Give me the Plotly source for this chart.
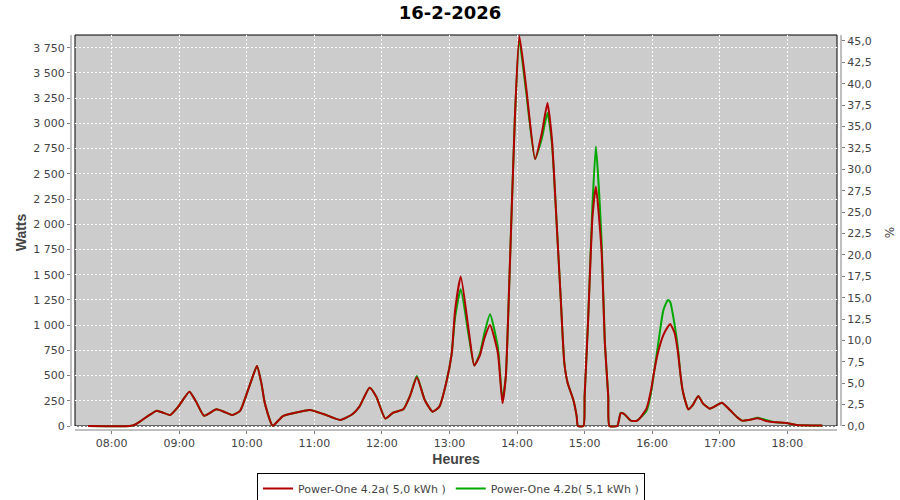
import plotly.graph_objects as go

DAY = "2026-02-16"

times = ["07:39", "08:16", "08:21", "08:25", "08:31", "08:40", "08:46", "08:52", "08:59", "09:09",
         "09:15", "09:22", "09:33", "09:41", "09:47", "09:54", "09:58", "10:04", "10:09", "10:13",
         "10:16", "10:23", "10:32", "10:41", "10:56", "11:08", "11:23", "11:34", "11:40", "11:49",
         "11:55", "12:03", "12:10", "12:19", "12:25", "12:31", "12:38", "12:45", "12:51", "12:57",
         "13:02", "13:05", "13:10", "13:17", "13:22", "13:27", "13:31", "13:36", "13:43", "13:47",
         "13:50", "13:53", "13:58", "14:02", "14:08", "14:16", "14:22", "14:27", "14:31", "14:35",
         "14:39", "14:42", "14:45", "14:50", "14:53", "14:54", "14:59", "15:00", "15:03", "15:07",
         "15:10", "15:15", "15:18", "15:21", "15:22", "15:29", "15:32", "15:35", "15:41", "15:46",
         "15:49", "15:55", "15:59", "16:02", "16:05", "16:10", "16:14", "16:16", "16:20", "16:23",
         "16:25", "16:27", "16:30", "16:32", "16:36", "16:41", "16:45", "16:51", "16:55", "17:02",
         "17:09", "17:15", "17:20", "17:26", "17:34", "17:41", "17:50", "17:59", "18:08", "18:31"]

power_a = [0, 0, 15, 43, 90, 152, 130, 109, 190, 340,
           240, 102, 165, 135, 109, 150, 258, 450, 595, 420,
           225, 3, 99, 126, 159, 119, 60, 119, 192, 380,
           291, 73, 132, 165, 300, 483, 258, 142, 192, 423,
           721, 1150, 1481, 952, 600, 700, 870, 1002, 721, 225,
           489, 1382, 3036, 3869, 3366, 2646, 2904, 3201, 2837, 2044,
           1217, 622, 423, 258, 92, 0, 0, 291, 1019, 2076,
           2374, 1746, 820, 291, 0, 0, 126, 120, 53, 50,
           76, 175, 357, 555, 721, 903, 985, 1012, 920, 721,
           523, 357, 225, 165, 208, 298, 225, 172, 190, 231,
           159, 92, 53, 60, 76, 50, 36, 30, 10, 5]

power_b = [0, 0, 15, 43, 90, 152, 130, 109, 190, 340,
           240, 102, 165, 135, 109, 150, 258, 450, 595, 420,
           225, 3, 99, 126, 159, 119, 60, 119, 192, 380,
           291, 73, 132, 165, 300, 495, 258, 142, 192, 423,
           721, 1080, 1356, 900, 600, 720, 920, 1108, 780, 260,
           489, 1382, 3036, 3820, 3320, 2646, 2850, 3102, 2800, 2044,
           1217, 622, 423, 258, 92, 0, 0, 291, 1019, 2200,
           2771, 1850, 820, 291, 0, 0, 131, 120, 53, 50,
           76, 150, 330, 560, 787, 1151, 1250, 1230, 1000, 760,
           523, 357, 225, 165, 208, 298, 225, 172, 190, 231,
           159, 92, 53, 60, 82, 60, 36, 30, 10, 5]

name_a = "Power-One 4.2a( 5,0 kWh )"
name_b = "Power-One 4.2b( 5,1 kWh )"
title_text = "16-2-2026"

xs = [f"{DAY} {t}" for t in times]

W, H = 900, 500
L, R, T, B = 71, 59, 35, 70
PW, PH = W - L - R, H - T - B


def fx(px):
    return (px - L) / PW


def fy(py):
    return (H - B - py) / PH


FONT = "DejaVu Sans"
GRAY = "#808080"
TXT = "#444444"
SMOOTH = 0.5

fig = go.Figure()
fig.add_trace(go.Scatter(x=xs, y=power_b, name=name_b, mode="lines", legendrank=2,
                         line=dict(color="#00A800", width=2, shape="spline", smoothing=SMOOTH)))
fig.add_trace(go.Scatter(x=xs, y=power_a, name=name_a, mode="lines", legendrank=1,
                         line=dict(color="#B00000", width=2, shape="spline", smoothing=SMOOTH)))
fig.add_trace(go.Scatter(x=[xs[0]], y=[None], yaxis="y2", showlegend=False,
                         hoverinfo="skip", mode="lines"))

shapes = [
    dict(type="rect", xref="paper", yref="paper", x0=fx(75), x1=fx(837), y0=fy(426), y1=fy(35),
         fillcolor="#cccccc", line=dict(width=0), layer="below"),
    dict(type="rect", xref="paper", yref="paper", x0=fx(75), x1=fx(837), y0=fy(426), y1=fy(35),
         line=dict(color="black", width=1), layer="between"),
    dict(type="line", xref="paper", yref="paper", x0=0, x1=0, y0=fy(426), y1=fy(35),
         line=dict(color=GRAY, width=1)),
    dict(type="line", xref="paper", yref="paper", x0=1, x1=1, y0=fy(426), y1=fy(35),
         line=dict(color=GRAY, width=1)),
    dict(type="line", xref="paper", yref="paper", x0=fx(75), x1=fx(837), y0=0, y1=0,
         line=dict(color=GRAY, width=1)),
]

fig.update_layout(
    width=W, height=H,
    margin=dict(l=L, r=R, t=T, b=B, autoexpand=False),
    paper_bgcolor="white", plot_bgcolor="white",
    separators=", ",
    font=dict(family=FONT, size=11, color=TXT),
    title=dict(text=title_text, x=0.5, xref="container", xanchor="center",
               y=1 - 13 / H, yref="container", yanchor="middle",
               font=dict(family=FONT, size=18, color="black", weight="bold")),
    showlegend=True,
    legend=dict(orientation="h", x=fx(451), xanchor="center", y=fy(473), yanchor="top",
                bordercolor="black", borderwidth=1, bgcolor="white", itemwidth=30,
                font=dict(family=FONT, size=11, color=TXT), traceorder="normal"),
    shapes=shapes,
    xaxis=dict(type="date", range=[f"{DAY} 07:23:51", f"{DAY} 18:47:42"],
               tickformat="%H:%M", dtick=3600000, tick0=f"{DAY} 08:00",
               ticks="outside", ticklen=3, tickcolor=GRAY, showline=False, zeroline=False,
               showgrid=True, gridcolor="white", gridwidth=1, griddash="2px,2px",
               tickfont=dict(family=FONT, size=11, color=TXT),
               title=dict(text="Heures", standoff=4,
                          font=dict(family="Liberation Sans", size=14, color=TXT, weight="bold"))),
    yaxis=dict(range=[-39.7, 3876], dtick=250, tick0=0, tickformat=",d",
               ticks="outside", ticklen=3, tickcolor=GRAY, showline=False, zeroline=False,
               showgrid=True, gridcolor="white", gridwidth=1, griddash="2px,2px",
               tickfont=dict(family=FONT, size=11, color=TXT),
               title=dict(text="Watts", standoff=3,
                          font=dict(family="Liberation Sans", size=14, color=TXT, weight="bold"))),
    yaxis2=dict(overlaying="y", side="right", range=[-0.47, 45.7], dtick=2.5, tick0=0,
                tickformat=".1f", ticks="outside", ticklen=3, tickcolor=GRAY,
                showline=False, zeroline=False, showgrid=False,
                tickfont=dict(family=FONT, size=11, color=TXT),
                title=dict(text="%", standoff=14,
                           font=dict(family=FONT, size=12, color=TXT))),
)

fig.write_html("out.html", config={"displayModeBar": False},
               post_script="document.body.style.margin='0';document.body.style.overflow='hidden';")
